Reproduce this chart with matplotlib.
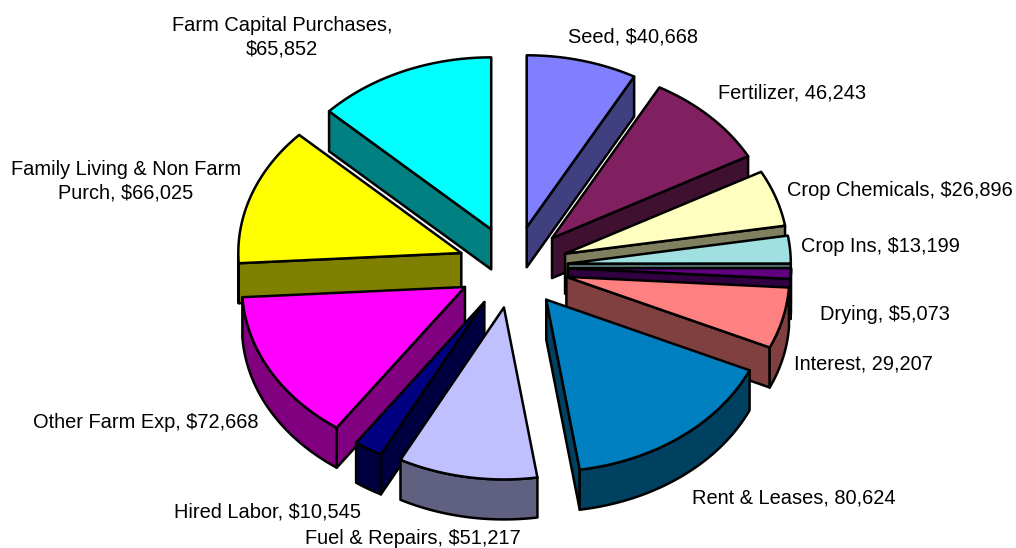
import numpy as np
import matplotlib
matplotlib.use('Agg')
import matplotlib.pyplot as plt
from matplotlib.patches import Polygon

plt.rcParams['font.family'] = ['Liberation Sans', 'DejaVu Sans']

# budget items, clockwise from 12 o'clock
names = ['Seed', 'Fertilizer', 'Crop Chemicals', 'Crop Ins', 'Drying', 'Interest',
         'Rent & Leases', 'Fuel & Repairs', 'Hired Labor', 'Other Farm Exp',
         'Family Living', 'Farm Capital']
values = [40668, 46243, 26896, 13199, 5073, 29207, 80624, 51217, 10545, 72668, 66025, 65852]
labels = ['Seed, $40,668', 'Fertilizer, 46,243', 'Crop Chemicals, $26,896', 'Crop Ins, $13,199',
          'Drying, $5,073', 'Interest, 29,207', 'Rent & Leases, 80,624', 'Fuel & Repairs, $51,217',
          'Hired Labor, $10,545', 'Other Farm Exp, $72,668',
          'Family Living & Non Farm\nPurch, $66,025', 'Farm Capital Purchases,\n$65,852']
top_colors = ['#8080FF', '#802060', '#FFFFC0', '#A0E0E0', '#600080', '#FF8080',
              '#0080C0', '#C0C0FF', '#000080', '#FF00FF', '#FFFF00', '#00FFFF']
side_colors = ['#404080', '#401030', '#808060', '#507070', '#300040', '#804040',
               '#004060', '#606080', '#000040', '#800080', '#808000', '#008080']

# pixel geometry of the tilted pie
cx, cy = 513, 267
rx, ry = 223, 172
ex, ey = 55, 41
depth = 40

label_pos = [(568, 37, 'left'), (718, 93, 'left'), (787, 191, 'left'), (801, 246, 'left'),
             (820, 314, 'left'), (794, 364, 'left'), (692, 498, 'left'), (305, 539, 'left'),
             (174, 512, 'left'), (33, 422, 'left'), (126, 181, 'center'), (282, 37, 'center')]

fig = plt.figure(figsize=(10.16, 5.48), dpi=100)
ax = fig.add_axes([0, 0, 1, 1])
ax.set_xlim(0, 1016)
ax.set_ylim(548, 0)
ax.axis('off')

vals = np.array(values, dtype=float)
edges = np.concatenate([[0], np.cumsum(vals)]) / vals.sum() * 2 * np.pi
mids = (edges[:-1] + edges[1:]) / 2


def rim(px, py, t):
    return np.column_stack([px + rx * np.sin(t), py - ry * np.cos(t)])


# back slices first so the front ones paint over them
order = np.argsort(-np.cos(mids))
for z, i in enumerate(order):
    px = cx + ex * np.sin(mids[i])
    py = cy - ey * np.cos(mids[i])
    t = np.linspace(edges[i], edges[i + 1], 80)
    arc = rim(px, py, t)
    down = np.array([0, depth])
    kw = dict(edgecolor='black', linewidth=1.8, joinstyle='round', zorder=z * 3 + 1)
    # cut faces, only those turned towards the viewer
    faces = []
    if np.sin(edges[i]) < 0:
        faces.append(arc[0])
    if np.sin(edges[i + 1]) > 0:
        faces.append(arc[-1])
    for p in faces:
        quad = np.array([[px, py], p, p + down, [px, py + depth]])
        ax.add_patch(Polygon(quad, closed=True, facecolor=side_colors[i], **kw))
    # outer wall, only the part facing the viewer
    front = t[(t >= np.pi / 2) & (t <= 3 * np.pi / 2)]
    if len(front) > 1:
        wall = rim(px, py, front)
        ax.add_patch(Polygon(np.vstack([wall, wall[::-1] + down]), closed=True,
                             facecolor=side_colors[i], **kw))
    # top face
    top = np.vstack([[px, py], arc])
    kw['zorder'] = z * 3 + 2
    ax.add_patch(Polygon(top, closed=True, facecolor=top_colors[i], **kw))

for lab, (x, y, ha) in zip(labels, label_pos):
    ax.text(x, y, lab, ha=ha, va='center', fontsize=14.45, color='black',
            linespacing=1.28, zorder=100)

fig.savefig('out.png', dpi=100)
